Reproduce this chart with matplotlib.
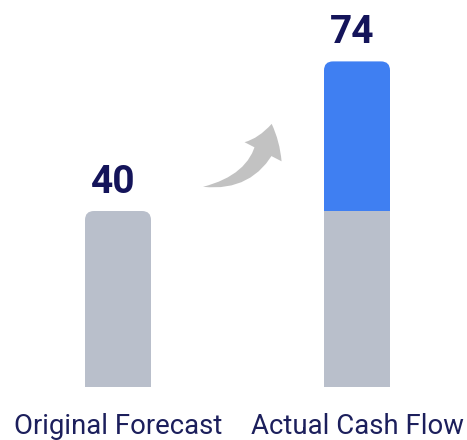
import matplotlib
matplotlib.use("Agg")
import matplotlib.pyplot as plt
from matplotlib.patches import FancyBboxPatch, FancyArrowPatch

categories = ["Original Forecast", "Actual Cash Flow"]
base_values = [40, 40]
increase_values = [0, 34]
totals = [40, 74]

grey = "#B9BFCB"
blue = "#3F7FF2"
navy = "#14145A"
label_c = "#1C1F5C"
arrow_c = "#C2C2C2"

W, H = 467, 440
fig = plt.figure(figsize=(W / 100, H / 100), dpi=100)
ax = fig.add_axes([0, 0, 1, 1])
ppu_y = 4.4
ppu_x = 239.0
ax.set_ylim(-(H - 387) / ppu_y, 387 / ppu_y)
ax.set_xlim(-118 / ppu_x, (W - 118) / ppu_x)
ax.axis("off")

bw = 66 / ppu_x
rx = 9 / ppu_x
ry = 9 / ppu_y


def rounded_top(x, y0, y1, color):
    ax.bar(x, (y1 - ry) - y0, bottom=y0, width=bw, color=color, linewidth=0)
    p = FancyBboxPatch((x - bw / 2, y1 - 2 * ry), bw, 2 * ry,
                       boxstyle=f"round,pad=0,rounding_size={rx}",
                       mutation_aspect=ry / rx, facecolor=color,
                       edgecolor="none", linewidth=0)
    ax.add_patch(p)


for i, cat in enumerate(categories):
    if increase_values[i] > 0:
        ax.bar(i, base_values[i], width=bw, color=grey, linewidth=0)
        rounded_top(i, base_values[i], totals[i], blue)
    else:
        rounded_top(i, 0, base_values[i], grey)
    ax.annotate(str(totals[i]), (i, totals[i]), xytext=(-3.5, 13),
                textcoords="offset points", ha="center", va="baseline",
                fontsize=28, fontweight="bold", color=navy, family="Roboto")
    ax.text(i, -47 / ppu_y, cat, ha="center", va="baseline", fontsize=19.8,
            color=label_c, family="Roboto")

# decorative growth arrow between the bars
tail_pt = (0.356, 45.5)
tip_pt = (0.643, 59.8)
rad = 0.4
tail = FancyArrowPatch(tip_pt, tail_pt,
                       connectionstyle=f"arc3,rad={-rad}",
                       arrowstyle="wedge,tail_width=15,shrink_factor=0.6",
                       color=arrow_c, linewidth=0, mutation_scale=1,
                       shrinkA=16, shrinkB=0)
ax.add_patch(tail)
head = FancyArrowPatch(tail_pt, tip_pt,
                       connectionstyle=f"arc3,rad={rad}",
                       arrowstyle="simple,head_length=21,head_width=30,tail_width=0.01",
                       color=arrow_c, linewidth=0, mutation_scale=1,
                       shrinkA=0, shrinkB=0)
ax.add_patch(head)

fig.savefig("out.png", dpi=100)
